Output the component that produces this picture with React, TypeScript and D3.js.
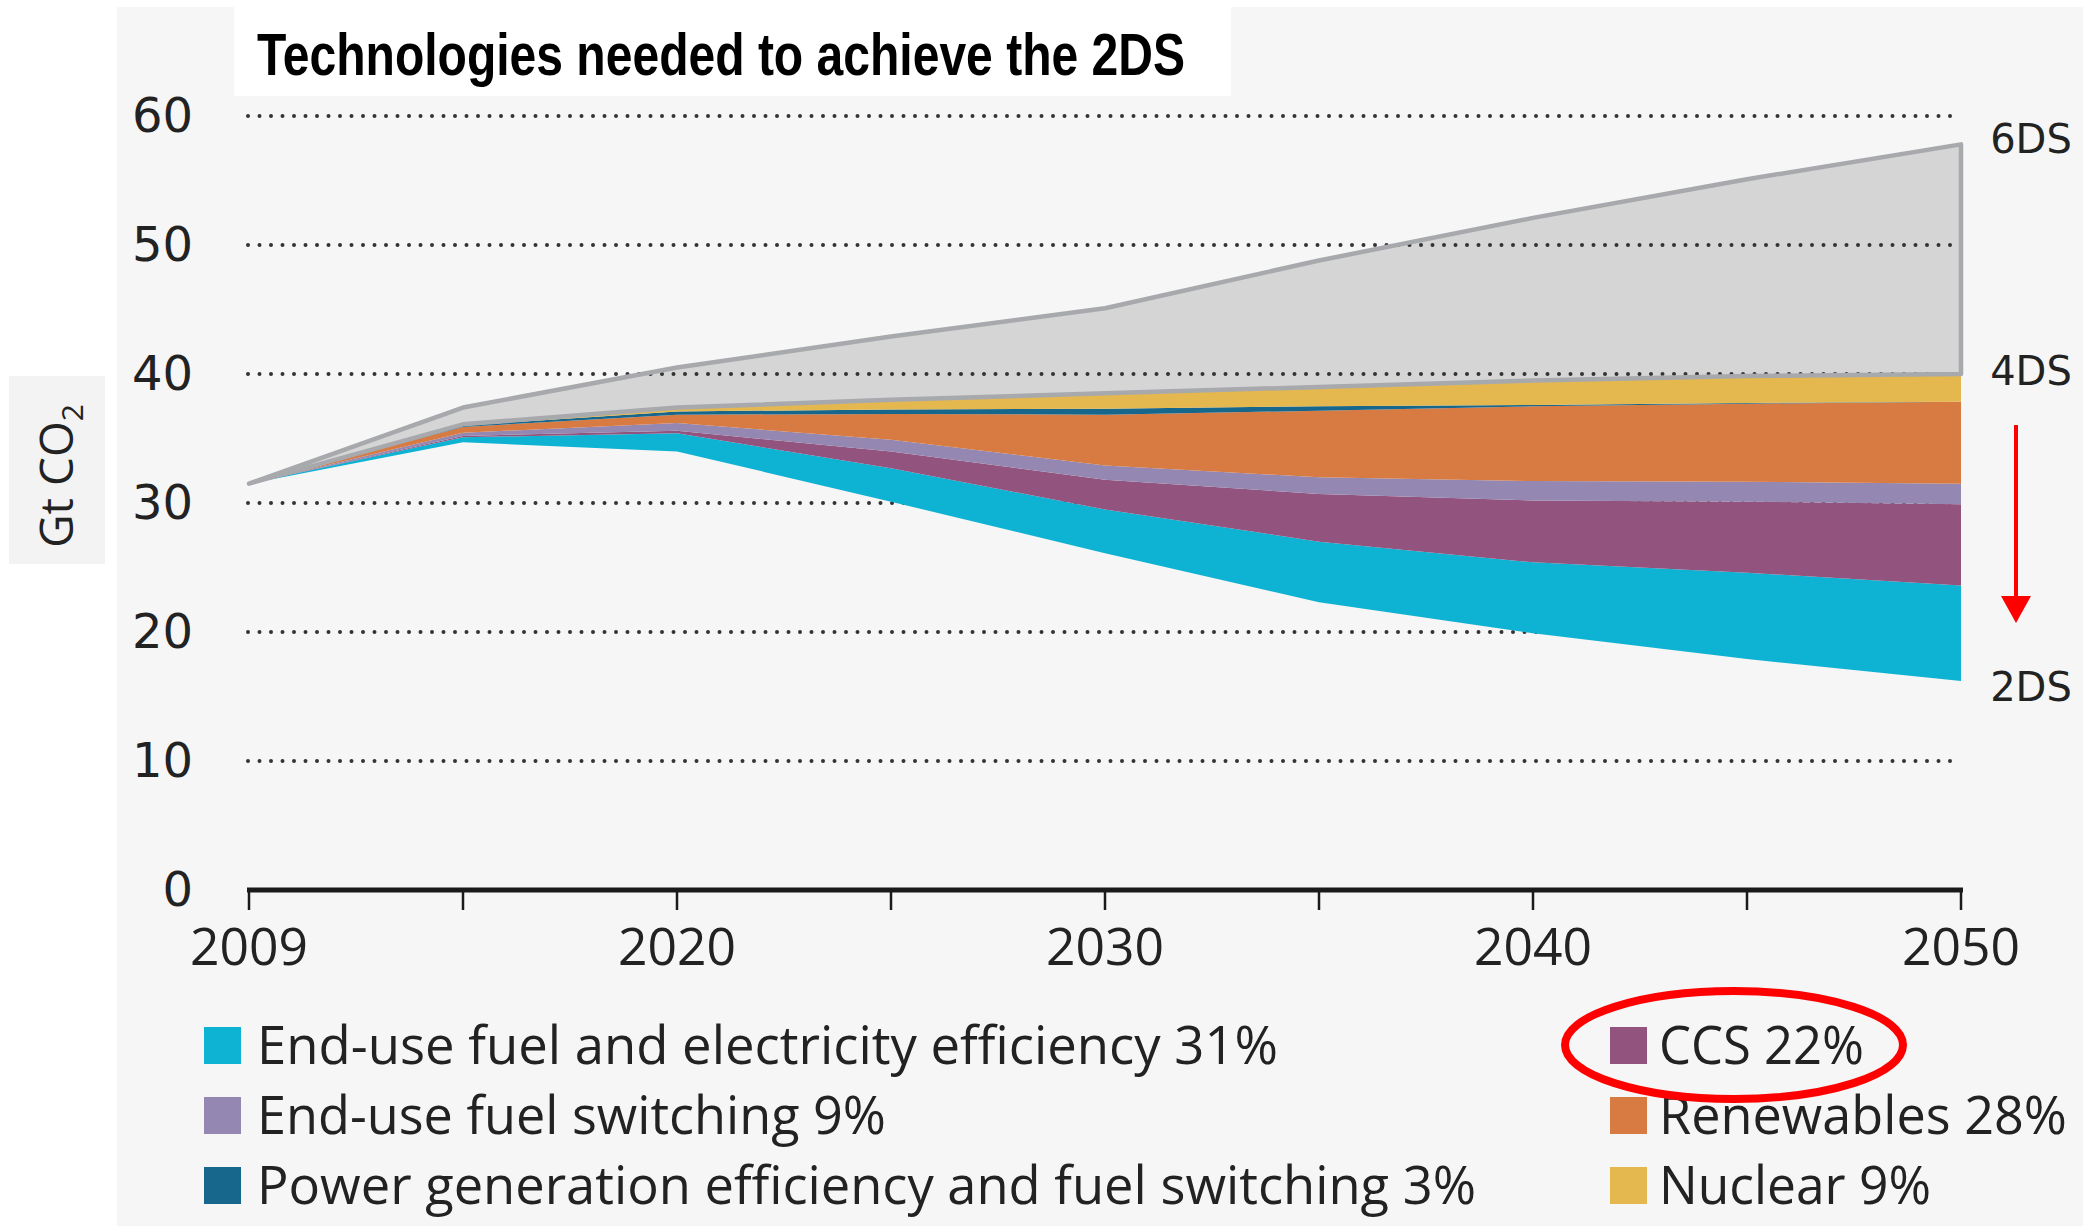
import React from "react";
import * as d3 from "d3";

// ---------- data ----------
const years = ["2009", "2015", "2020", "2025", "2030", "2035", "2040", "2045", "2050"];
const xTickLabels = ["2009", "", "2020", "", "2030", "", "2040", "", "2050"];
const yTicks = [0, 10, 20, 30, 40, 50, 60];

// 2DS emissions path (bottom of the stack), Gt CO2
const base2DS = [31.5, 34.7, 34.0, 30.1, 26.1, 22.3, 19.9, 17.9, 16.2];
// wedge thicknesses, Gt CO2
const endUseEfficiency = [0, 0.4, 1.4, 2.6, 3.4, 4.7, 5.5, 6.7, 7.4];
const ccs = [0, 0.1, 0.2, 1.3, 2.3, 3.7, 4.8, 5.5, 6.3];
const endUseSwitching = [0, 0.25, 0.6, 0.9, 1.1, 1.3, 1.5, 1.55, 1.6];
const renewables = [0, 0.45, 0.65, 2.0, 3.95, 5.15, 5.8, 6.05, 6.35];
const powerGen = [0, 0.1, 0.25, 0.35, 0.45, 0.35, 0.1, 0.05, 0.0];
const nuclear = [0, 0.1, 0.3, 0.75, 1.2, 1.5, 1.9, 2.1, 2.15];
const gap6DS = [0, 1.3, 3.1, 4.9, 6.6, 9.8, 12.6, 15.25, 17.8];

const seriesKeys = ["base", "eff", "ccs", "switch", "ren", "power", "nuc", "gap"];
const seriesValues = [base2DS, endUseEfficiency, ccs, endUseSwitching, renewables, powerGen, nuclear, gap6DS];
const seriesColors: Record<string, string> = {
  eff: "#0eb3d3",
  ccs: "#92547f",
  switch: "#9488b2",
  ren: "#d87b43",
  power: "#17678c",
  nuc: "#e5b74f",
};

const legendLeft = [
  { key: "eff", label: "End-use fuel and electricity efficiency 31%" },
  { key: "switch", label: "End-use fuel switching 9%" },
  { key: "power", label: "Power generation efficiency and fuel switching 3%" },
];
const legendRight = [
  { key: "ccs", label: "CCS 22%" },
  { key: "ren", label: "Renewables 28%" },
  { key: "nuc", label: "Nuclear 9%" },
];
const scenarioLabels = ["6DS", "4DS", "2DS"];

// ---------- layout ----------
const W = 2098;
const H = 1226;
const legendLeftWidths = [1021, 629, 1219];
const legendRightWidths = [205, 408, 272];

export default function App() {
  const x = d3.scalePoint<string>().domain(years).range([249, 1961]);
  const y = d3.scaleLinear().domain([0, 60]).range([890, 116]);

  const table = years.map((yr, i) => {
    const row: Record<string, number | string> = { year: yr };
    seriesKeys.forEach((k, j) => (row[k] = seriesValues[j][i]));
    return row;
  });
  const stacked = d3.stack<any>().keys(seriesKeys)(table);

  const area = d3
    .area<any>()
    .x((d) => x(d.data.year) as number)
    .y0((d) => y(d[0]))
    .y1((d) => y(d[1]));

  const gapLayer = stacked.find((s) => s.key === "gap")!;
  const gapPath = area(gapLayer as any) as string;
  const colored = stacked.filter((s) => seriesColors[s.key]);

  const lastIdx = years.length - 1;
  const top6 = gapLayer[lastIdx][1];
  const top4 = gapLayer[lastIdx][0];
  const base = stacked[0][lastIdx][1];
  const scenarioY = [y(top6) - 5, y(top4) - 3, y(base) + 6];

  const legendRowsY = [1064, 1134, 1204];

  return (
    <svg
      width={W}
      height={H}
      style={{ position: "absolute", left: 0, top: 0, background: "#ffffff" }}
    >
      <rect x={117} y={7} width={1966} height={H - 7} fill="#f6f6f6" />
      <rect x={234} y={7} width={997} height={89} fill="#ffffff" />
      <text
        x={257}
        y={75}
        fontFamily="'Liberation Sans', Arial, sans-serif"
        fontWeight="bold"
        fontSize={60}
        textLength={928}
        lengthAdjust="spacingAndGlyphs"
        fill="#000"
      >
        Technologies needed to achieve the 2DS
      </text>

      {/* y label box */}
      <rect x={9} y={376} width={96} height={188} fill="#f3f3f3" />
      <text
        transform="translate(73,476) rotate(-90)"
        textAnchor="middle"
        fontFamily="'Open Sans', sans-serif"
        fontSize={46}
        fill="#222"
      >
        Gt CO<tspan fontSize={30} dy={10}>2</tspan>
      </text>

      {/* 6DS gray wedge fill */}
      <path d={gapPath} fill="#d5d5d5" stroke="none" />

      {/* dotted gridlines */}
      {yTicks
        .filter((t) => t > 0)
        .map((t) => (
          <line
            key={t}
            x1={248}
            x2={1960}
            y1={y(t)}
            y2={y(t)}
            stroke="#333"
            strokeWidth={4}
            strokeDasharray="0 11.5"
            strokeLinecap="round"
          />
        ))}

      {/* colored wedges */}
      {colored.map((s) => (
        <path key={s.key} d={area(s as any) as string} fill={seriesColors[s.key]} />
      ))}

      {/* 6DS wedge outline */}
      <path d={gapPath} fill="none" stroke="#a7a9ac" strokeWidth={4.5} strokeLinejoin="round" />

      {/* y tick labels */}
      {yTicks.map((t) => (
        <text
          key={t}
          x={193}
          y={y(t) - 1}
          textAnchor="end"
          dominantBaseline="central"
          fontFamily="'DejaVu Sans', sans-serif"
          fontSize={48}
          fill="#222"
        >
          {t}
        </text>
      ))}

      {/* x axis */}
      <line x1={247} x2={1963} y1={y(0)} y2={y(0)} stroke="#1a1a1a" strokeWidth={5} />
      {years.map((yr, i) => (
        <g key={yr}>
          <line
            x1={x(yr)}
            x2={x(yr)}
            y1={y(0)}
            y2={y(0) + 20}
            stroke="#1a1a1a"
            strokeWidth={2.5}
          />
          {xTickLabels[i] && (
            <text
              x={x(yr)}
              y={965}
              textAnchor="middle"
              fontFamily="'Open Sans', sans-serif"
              fontSize={52}
              textLength={118}
              lengthAdjust="spacingAndGlyphs"
              fill="#222"
            >
              {xTickLabels[i]}
            </text>
          )}
        </g>
      ))}

      {/* scenario labels */}
      {scenarioLabels.map((lab, i) => (
        <text
          key={lab}
          x={2031}
          y={scenarioY[i]}
          textAnchor="middle"
          dominantBaseline="central"
          fontFamily="'DejaVu Sans', sans-serif"
          fontSize={40}
          fill="#222"
        >
          {lab}
        </text>
      ))}

      {/* red arrow 4DS -> 2DS */}
      <line x1={2016} x2={2016} y1={425} y2={600} stroke="#ff0000" strokeWidth={4} />
      <path d="M2001,596 L2031,596 L2016,623 Z" fill="#ff0000" />

      {/* legend */}
      {legendLeft.map((l, i) => (
        <g key={l.key}>
          <rect x={204} y={legendRowsY[i] - 37} width={37} height={37} fill={seriesColors[l.key]} />
          <text
            x={257}
            y={legendRowsY[i]}
            fontFamily="'Open Sans', sans-serif"
            fontSize={53}
            textLength={legendLeftWidths[i]}
            lengthAdjust="spacingAndGlyphs"
            fill="#222"
          >
            {l.label}
          </text>
        </g>
      ))}
      {legendRight.map((l, i) => (
        <g key={l.key}>
          <rect x={1610} y={legendRowsY[i] - 37} width={37} height={37} fill={seriesColors[l.key]} />
          <text
            x={1659}
            y={legendRowsY[i]}
            fontFamily="'Open Sans', sans-serif"
            fontSize={53}
            textLength={legendRightWidths[i]}
            lengthAdjust="spacingAndGlyphs"
            fill="#222"
          >
            {l.label}
          </text>
        </g>
      ))}

      {/* red highlight ellipse around CCS */}
      <ellipse cx={1734} cy={1045} rx={169} ry={54} fill="none" stroke="#ff0000" strokeWidth={8} />
    </svg>
  );
}
